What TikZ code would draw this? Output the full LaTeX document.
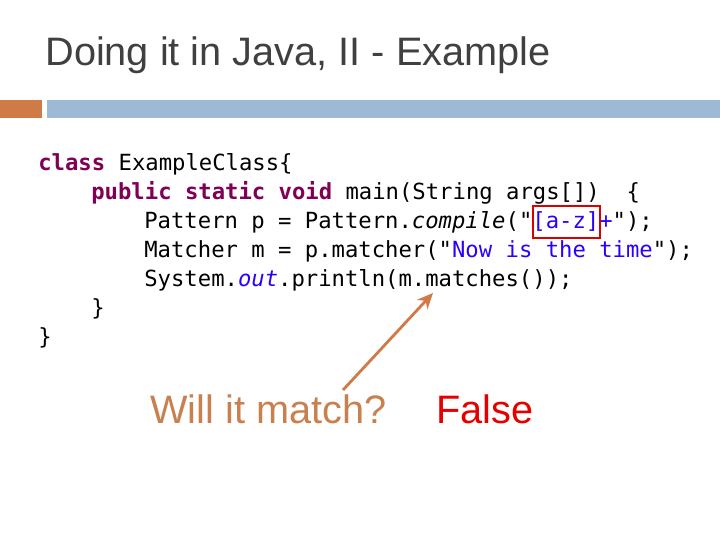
\documentclass[tikz,border=0pt]{standalone}
\usepackage{fontspec}
\setmainfont{Liberation Sans}
\setmonofont{DejaVu Sans Mono}
\usetikzlibrary{positioning, arrows.meta}
\definecolor{keyw}{HTML}{7F0055}
\definecolor{strg}{HTML}{2A00FF}
\definecolor{accent}{HTML}{D07A48}
\definecolor{barblue}{HTML}{9DB9D3}
\definecolor{notecol}{HTML}{C8804F}
\newcommand{\kw}[1]{\textcolor{keyw}{\textbf{#1}}}
\newcommand{\str}[1]{\textcolor{strg}{#1}}
\tikzset{
  codeline/.style={anchor=base west, inner sep=0pt, font=\ttfamily\fontsize{12.65pt}{14pt}\selectfont},
  bigtext/.style={anchor=base west, inner sep=0pt, font=\fontsize{22.6pt}{26pt}\selectfont},
  arrow/.style={-{Stealth[length=9pt,width=8pt]}, accent, line width=1.6pt},
}
\begin{document}
\begin{tikzpicture}[x=0.02cm, y=-0.02cm]
  \useasboundingbox (0,0) rectangle (720,540);

  % Title and bars
  \node[anchor=base west, inner sep=0pt, text=black!75, font=\fontsize{22.6pt}{26pt}\selectfont] (title) at (45,66) {Doing it in Java, II - Example};
  \fill[accent] (0,100) rectangle (42,118);
  \fill[barblue] (47,100) rectangle (720,118);

  % Code
  \node[codeline] (l1) at (38,171) {\kw{class} ExampleClass\{};
  \node[codeline] (l2) at (91,200) {\kw{public} \kw{static} \kw{void} main(String args[])\ \ \{};
  \node[codeline] (l3) at (144,229) {Pattern p = Pattern.\textit{compile}("\str{[a-z]+}");};
  \node[codeline] (l4) at (144,258) {Matcher m = p.matcher("\str{Now is the time}");};
  \node[codeline] (l5) at (144,287) {System.\textit{\str{out}}.println(m.matches());};
  \node[codeline] (l6) at (91,316) {\}};
  \node[codeline] (l7) at (38,345) {\}};

  % Highlight
  \draw[red!85!black, line width=1.6pt] (533,206) rectangle (600,238);

  % Question and answer
  \node[bigtext, text=notecol] (question) at (150,423) {Will it match?};
  \node[bigtext, text=red!90!black] (answer) at (436,423) {False};
  \coordinate (tail) at (343,390);
  \coordinate (tip) at (433,293);
  \draw[arrow] (tail) -- (tip);
\end{tikzpicture}
\end{document}
